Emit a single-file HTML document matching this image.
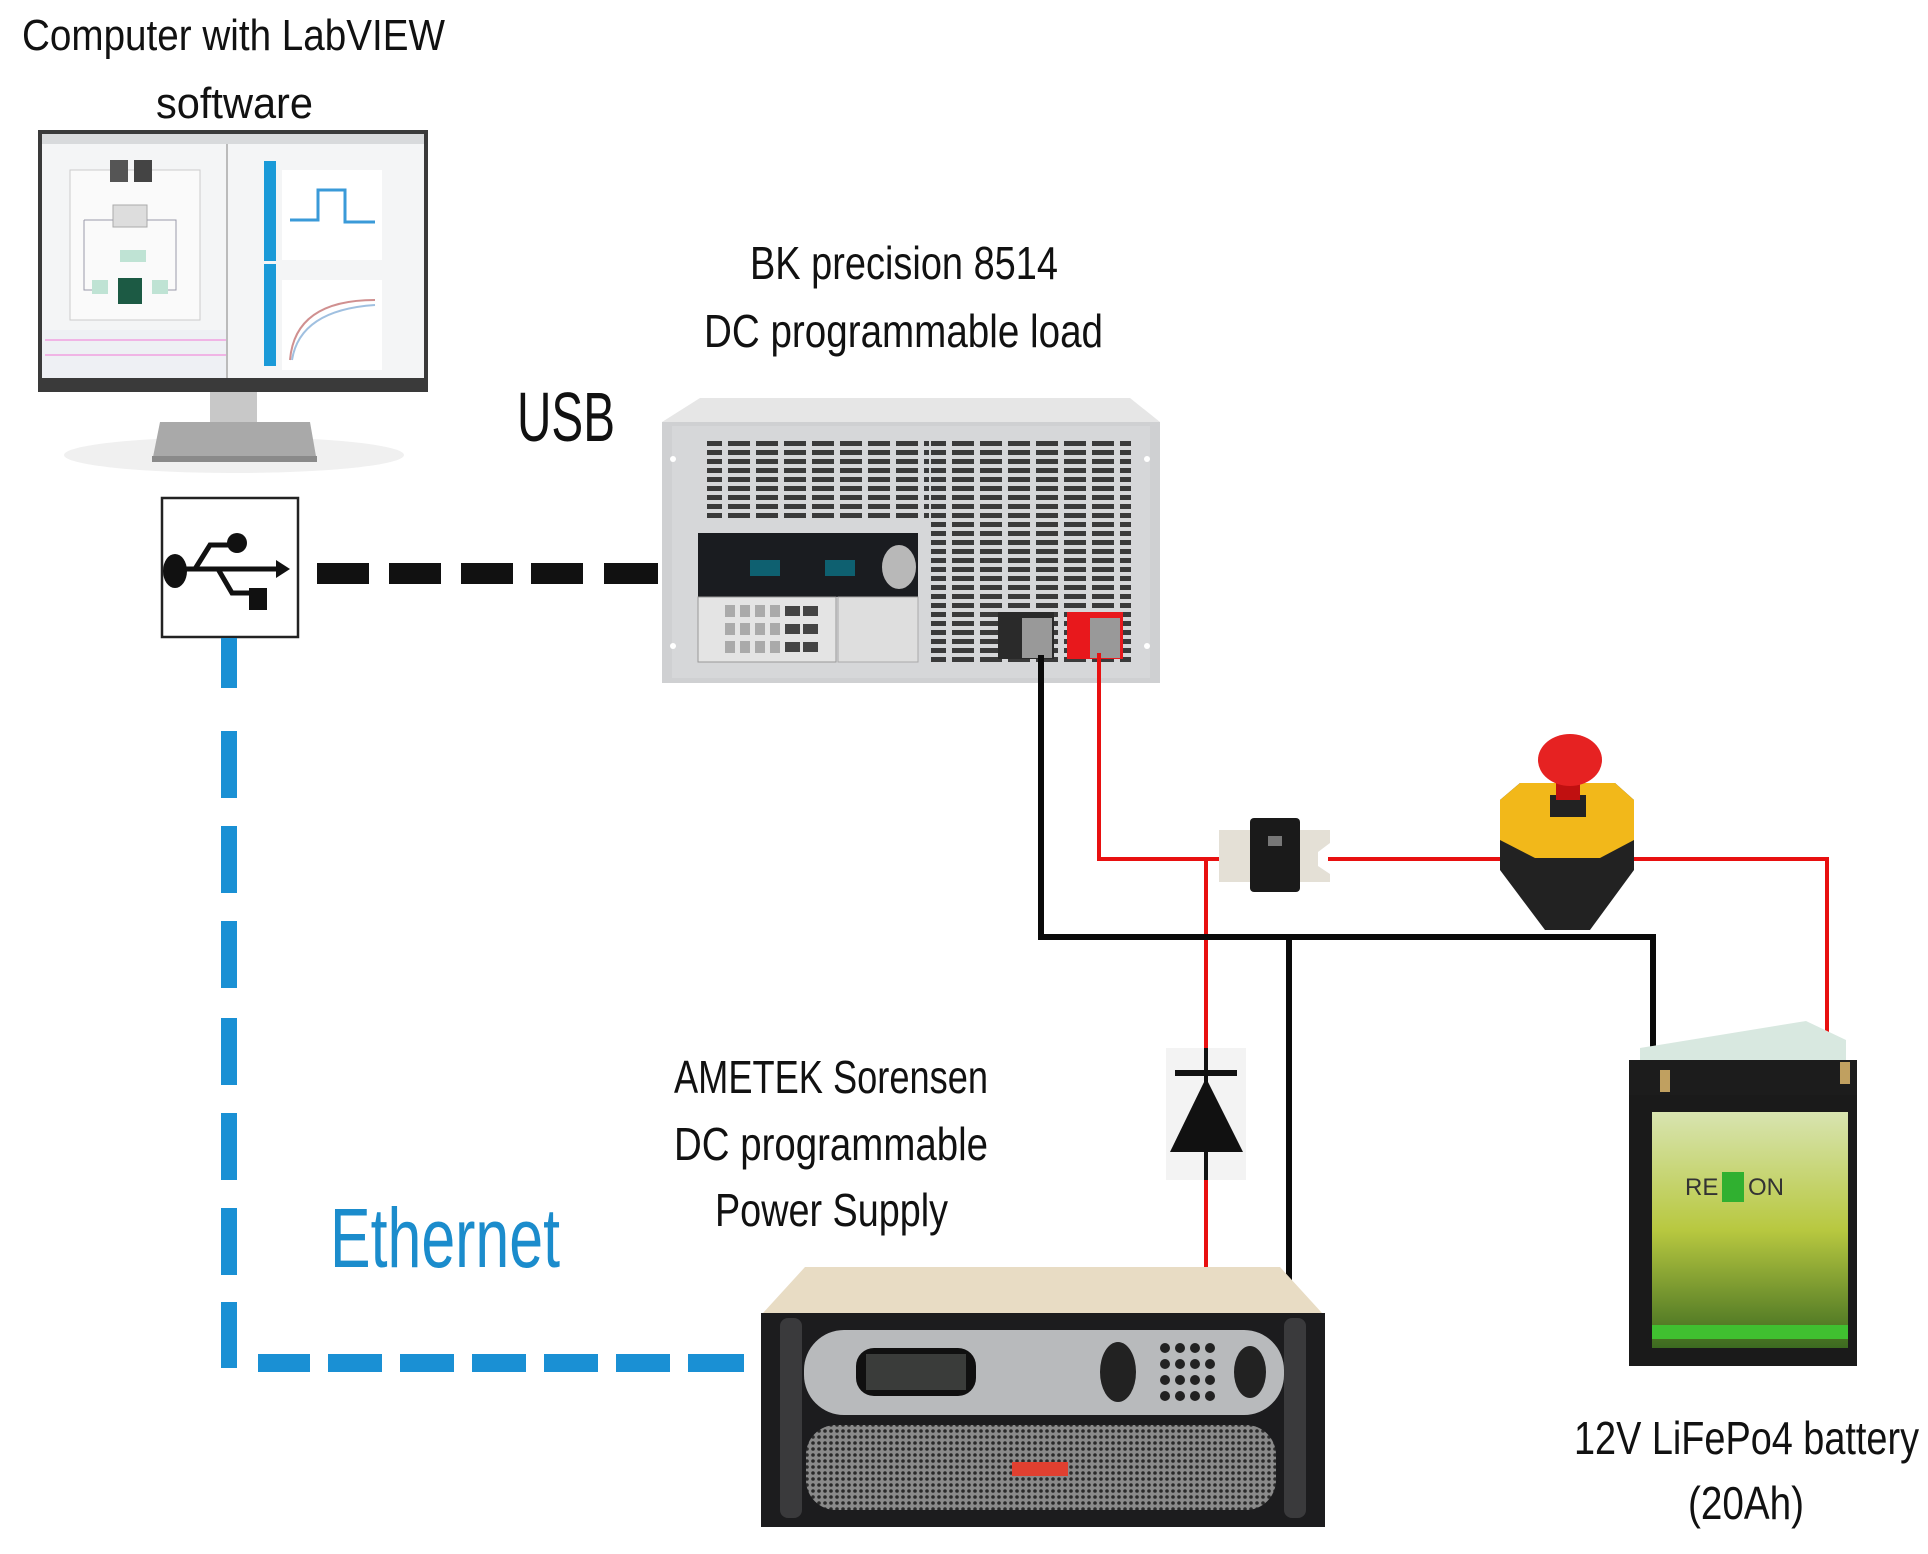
<!DOCTYPE html>
<html><head><meta charset="utf-8">
<style>
html,body{margin:0;padding:0;background:#fff;}
svg{display:block;}
text{font-family:"Liberation Sans Narrow","Liberation Sans",sans-serif;fill:#111;}
</style></head>
<body>
<svg width="1928" height="1554" viewBox="0 0 1928 1554" xmlns="http://www.w3.org/2000/svg">
<defs>
<pattern id="vent" x="0" y="0" width="28" height="9" patternUnits="userSpaceOnUse">
<rect x="0" y="0" width="22" height="5" fill="#3a3a3a"/>
</pattern>
<pattern id="mesh" x="0" y="0" width="6" height="6" patternUnits="userSpaceOnUse">
<rect width="6" height="6" fill="#8a8a8a"/><circle cx="3" cy="3" r="1.8" fill="#2a2a2a"/>
</pattern>
<linearGradient id="grass" x1="0" y1="0" x2="0" y2="1">
<stop offset="0" stop-color="#d8e4b0"/><stop offset="0.5" stop-color="#b8c840"/><stop offset="1" stop-color="#3c6a20"/>
</linearGradient>
</defs>

<!-- Texts -->
<text x="22" y="50" font-size="44" textLength="423" lengthAdjust="spacingAndGlyphs">Computer with LabVIEW</text>
<text x="156" y="118" font-size="44" textLength="157" lengthAdjust="spacingAndGlyphs">software</text>
<text x="517" y="441" font-size="70" textLength="98" lengthAdjust="spacingAndGlyphs">USB</text>
<text x="750" y="279" font-size="46" textLength="308" lengthAdjust="spacingAndGlyphs">BK precision 8514</text>
<text x="704" y="347" font-size="46" textLength="399" lengthAdjust="spacingAndGlyphs">DC programmable load</text>
<text x="674" y="1093" font-size="46" textLength="314" lengthAdjust="spacingAndGlyphs">AMETEK Sorensen</text>
<text x="674" y="1160" font-size="46" textLength="314" lengthAdjust="spacingAndGlyphs">DC programmable</text>
<text x="715" y="1226" font-size="46" textLength="233" lengthAdjust="spacingAndGlyphs">Power Supply</text>
<text x="330" y="1267" font-size="84" textLength="230" lengthAdjust="spacingAndGlyphs" style="fill:#1b8ccc">Ethernet</text>
<text x="1574" y="1454" font-size="46" textLength="345" lengthAdjust="spacingAndGlyphs">12V LiFePo4 battery</text>
<text x="1688" y="1519" font-size="46" textLength="116" lengthAdjust="spacingAndGlyphs">(20Ah)</text>

<!-- Monitor -->
<ellipse cx="234" cy="455" rx="170" ry="18" fill="#f0f0f0"/>
<rect x="38" y="130" width="390" height="262" fill="#3a3a3a"/>
<rect x="42" y="134" width="382" height="244" fill="#f4f5f6"/>
<rect x="42" y="134" width="382" height="10" fill="#d8dadc"/>
<rect x="226" y="144" width="2" height="234" fill="#bbb"/>
<rect x="70" y="170" width="130" height="150" fill="#fafafa" stroke="#ccc"/>
<rect x="110" y="160" width="18" height="22" fill="#555"/><rect x="134" y="160" width="18" height="22" fill="#444"/>
<rect x="113" y="205" width="34" height="22" fill="#ddd" stroke="#aaa"/>
<rect x="120" y="250" width="26" height="12" fill="#bfe3d4"/>
<rect x="118" y="278" width="24" height="26" fill="#1c5a44"/>
<rect x="92" y="280" width="16" height="14" fill="#bfe3d4"/><rect x="152" y="280" width="16" height="14" fill="#bfe3d4"/>
<path d="M84 220 H113 M147 220 H176 V290 H168 M84 220 V290 H92" stroke="#99a" fill="none"/>
<rect x="42" y="330" width="184" height="48" fill="#eef0f4"/>
<path d="M45 340 H226 M45 355 H226" stroke="#f0a0e0" stroke-width="1.5"/>
<rect x="264" y="161" width="12" height="100" fill="#1a9ad8"/><rect x="264" y="264" width="12" height="102" fill="#1a9ad8"/>
<rect x="282" y="170" width="100" height="90" fill="#fff"/>
<path d="M290 220 H318 V190 H345 V222 H375" stroke="#3a9ad8" stroke-width="3" fill="none"/>
<rect x="282" y="280" width="100" height="90" fill="#fff"/>
<path d="M290 360 Q295 300 375 300" stroke="#d09090" stroke-width="2" fill="none"/>
<path d="M292 360 Q300 310 375 305" stroke="#a0c0e0" stroke-width="2" fill="none"/>
<rect x="210" y="392" width="47" height="38" fill="#c8c8c8"/>
<path d="M160 422 H310 L317 462 H152 Z" fill="#a9a9a9"/>
<rect x="152" y="456" width="165" height="6" fill="#8a8a8a"/>

<!-- USB icon box -->
<rect x="162" y="498" width="136" height="139" fill="#fff" stroke="#222" stroke-width="2.5"/>
<g fill="#111" stroke="#111">
<ellipse cx="175" cy="571" rx="12" ry="17" stroke="none"/>
<line x1="180" y1="569" x2="282" y2="569" stroke-width="5"/>
<path d="M290 569 L276 560 L276 578 Z" stroke="none"/>
<path d="M195 569 L210 545 H232" fill="none" stroke-width="5"/>
<circle cx="237" cy="543" r="10" stroke="none"/>
<path d="M218 569 L232 593 H250" fill="none" stroke-width="5"/>
<rect x="249" y="588" width="18" height="22" stroke="none"/>
</g>

<!-- USB black dashes -->
<g fill="#111">
<rect x="317" y="563" width="52" height="21"/><rect x="389" y="563" width="52" height="21"/>
<rect x="461" y="563" width="52" height="21"/><rect x="531" y="563" width="52" height="21"/>
<rect x="604" y="563" width="54" height="21"/>
</g>

<!-- Ethernet blue dashes -->
<g fill="#1a90d4">
<rect x="221" y="638" width="16" height="50"/>
<rect x="221" y="731" width="16" height="67"/>
<rect x="221" y="826" width="16" height="67"/>
<rect x="221" y="921" width="16" height="67"/>
<rect x="221" y="1018" width="16" height="67"/>
<rect x="221" y="1113" width="16" height="67"/>
<rect x="221" y="1208" width="16" height="67"/>
<rect x="221" y="1302" width="16" height="66"/>
<rect x="258" y="1354" width="52" height="18"/>
<rect x="328" y="1354" width="54" height="18"/>
<rect x="400" y="1354" width="54" height="18"/>
<rect x="472" y="1354" width="54" height="18"/>
<rect x="544" y="1354" width="54" height="18"/>
<rect x="616" y="1354" width="54" height="18"/>
<rect x="688" y="1354" width="56" height="18"/>
</g>

<!-- BK load -->
<path d="M700 398 H1130 L1160 422 H662 Z" fill="#e6e6e6"/>
<rect x="662" y="422" width="498" height="261" fill="#cfd0d2"/>
<rect x="672" y="426" width="478" height="252" fill="#d6d7d9"/>
<rect x="707" y="440" width="222" height="82" fill="url(#vent)"/>
<rect x="931" y="440" width="200" height="225" fill="url(#vent)"/>
<circle cx="673" cy="459" r="3" fill="#fff"/><circle cx="1147" cy="459" r="3" fill="#fff"/>
<circle cx="673" cy="646" r="3" fill="#fff"/><circle cx="1147" cy="646" r="3" fill="#fff"/>
<rect x="698" y="533" width="220" height="64" fill="#1a1c20"/>
<rect x="750" y="560" width="30" height="16" fill="#0e6070"/><rect x="825" y="560" width="30" height="16" fill="#0e6070"/>
<ellipse cx="899" cy="567" rx="17" ry="22" fill="#b8b8b8"/>
<rect x="698" y="597" width="138" height="65" fill="#e4e4e4" stroke="#999"/>
<rect x="838" y="597" width="80" height="65" fill="#dedede" stroke="#aaa"/>
<g fill="#aaa">
<rect x="725" y="605" width="10" height="12"/><rect x="740" y="605" width="10" height="12"/><rect x="755" y="605" width="10" height="12"/><rect x="770" y="605" width="10" height="12"/>
<rect x="725" y="623" width="10" height="12"/><rect x="740" y="623" width="10" height="12"/><rect x="755" y="623" width="10" height="12"/><rect x="770" y="623" width="10" height="12"/>
<rect x="725" y="641" width="10" height="12"/><rect x="740" y="641" width="10" height="12"/><rect x="755" y="641" width="10" height="12"/><rect x="770" y="641" width="10" height="12"/>
</g>
<g fill="#444"><rect x="785" y="606" width="15" height="10"/><rect x="803" y="606" width="15" height="10"/><rect x="785" y="624" width="15" height="10"/><rect x="803" y="624" width="15" height="10"/><rect x="785" y="642" width="15" height="10"/><rect x="803" y="642" width="15" height="10"/></g>
<rect x="998" y="612" width="56" height="47" fill="#2a2a2a"/>
<rect x="1067" y="612" width="56" height="47" fill="#e8181c"/>
<rect x="1022" y="618" width="30" height="40" fill="#999"/><rect x="1090" y="618" width="30" height="40" fill="#999"/>

<!-- Wires -->
<g fill="none" stroke-linecap="square">
<path d="M1099 655 V859 H1219 M1330 859 H1500 M1634 859 H1827 V1083" stroke="#e81010" stroke-width="4"/>
<path d="M1206 859 V1048 M1206 1180 V1268" stroke="#e81010" stroke-width="4"/>
<path d="M1041 658 V937 H1653 V1093" stroke="#0a0a0a" stroke-width="6"/>
<path d="M1289 937 V1318" stroke="#0a0a0a" stroke-width="6"/>
</g>

<!-- Diode -->
<rect x="1166" y="1048" width="80" height="132" fill="#f3f3f3"/>
<line x1="1206" y1="1048" x2="1206" y2="1180" stroke="#111" stroke-width="4"/>
<line x1="1175" y1="1073" x2="1237" y2="1073" stroke="#111" stroke-width="6"/>
<path d="M1206 1078 L1243 1152 H1170 Z" fill="#111"/>

<!-- Fuse -->
<path d="M1219 830 H1330 V843 L1318 852 V866 L1330 874 V882 H1219 Z" fill="#e4e0d6"/>
<rect x="1250" y="818" width="50" height="74" rx="4" fill="#1a1a1a"/>
<rect x="1268" y="836" width="14" height="10" fill="#777"/>

<!-- E-stop -->
<path d="M1500 800 L1520 783 H1615 L1634 800 V870 L1590 930 H1545 L1500 870 Z" fill="#222"/>
<path d="M1500 800 L1520 783 H1615 L1634 800 V840 L1600 858 H1535 L1500 840 Z" fill="#f2b81a"/>
<rect x="1550" y="795" width="36" height="22" fill="#222"/>
<rect x="1556" y="770" width="24" height="30" fill="#c01010"/>
<ellipse cx="1570" cy="760" rx="32" ry="26" fill="#e62222"/>

<!-- Battery -->
<path d="M1640 1048 L1806 1021 L1846 1040 V1093 H1640 Z" fill="#d8e8e0"/>
<rect x="1629" y="1060" width="228" height="42" fill="#1c1c1c"/>
<rect x="1629" y="1095" width="228" height="271" fill="#1a1a1a"/>
<rect x="1652" y="1112" width="196" height="236" fill="url(#grass)"/>
<rect x="1652" y="1325" width="196" height="14" fill="#40c030"/>
<rect x="1660" y="1070" width="10" height="22" fill="#c0a060"/><rect x="1840" y="1062" width="10" height="22" fill="#c0a060"/>
<text x="1685" y="1195" font-size="24" style="fill:#333">RE</text>
<rect x="1722" y="1172" width="22" height="30" fill="#30b030"/>
<text x="1748" y="1195" font-size="24" style="fill:#333">ON</text>
</g>

<!-- Power supply -->
<path d="M805 1267 H1280 L1322 1313 H763 Z" fill="#e8dcc4"/>
<rect x="761" y="1313" width="564" height="214" fill="#1c1c1e"/>
<rect x="780" y="1318" width="22" height="200" rx="8" fill="#3a3a3c"/>
<rect x="1284" y="1318" width="22" height="200" rx="8" fill="#3a3a3c"/>
<rect x="804" y="1330" width="480" height="85" rx="40" fill="#b8babc"/>
<rect x="856" y="1348" width="120" height="48" rx="18" fill="#101010"/>
<rect x="866" y="1354" width="100" height="36" fill="#3a3c3a"/>
<ellipse cx="1118" cy="1372" rx="18" ry="30" fill="#222"/>
<g fill="#222"><circle cx="1165" cy="1348" r="5"/><circle cx="1180" cy="1348" r="5"/><circle cx="1195" cy="1348" r="5"/><circle cx="1210" cy="1348" r="5"/>
<circle cx="1165" cy="1364" r="5"/><circle cx="1180" cy="1364" r="5"/><circle cx="1195" cy="1364" r="5"/><circle cx="1210" cy="1364" r="5"/>
<circle cx="1165" cy="1380" r="5"/><circle cx="1180" cy="1380" r="5"/><circle cx="1195" cy="1380" r="5"/><circle cx="1210" cy="1380" r="5"/>
<circle cx="1165" cy="1396" r="5"/><circle cx="1180" cy="1396" r="5"/><circle cx="1195" cy="1396" r="5"/><circle cx="1210" cy="1396" r="5"/></g>
<ellipse cx="1250" cy="1372" rx="16" ry="26" fill="#222"/>
<rect x="806" y="1425" width="470" height="85" rx="30" fill="url(#mesh)"/>
<rect x="1012" y="1462" width="56" height="14" fill="#e04030"/>
</svg>
</body></html>
